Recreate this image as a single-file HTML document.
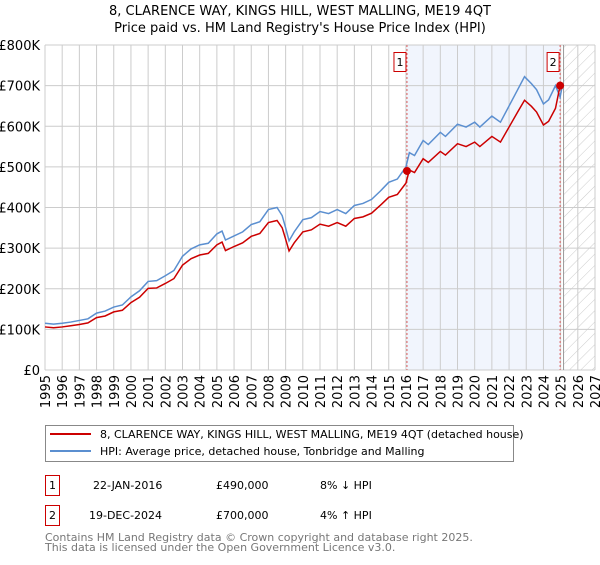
<!DOCTYPE html>
<html><head><meta charset="utf-8"><style>
body{margin:0;background:#fff;font-family:"Liberation Sans","DejaVu Sans",sans-serif;}
svg text{font-family:"DejaVu Sans","Liberation Sans",sans-serif;}
</style></head><body>
<svg id="c" width="600" height="560" xmlns="http://www.w3.org/2000/svg">
<defs><pattern id="hatch" width="8" height="8" patternUnits="userSpaceOnUse" patternTransform="rotate(45)"><line x1="0" y1="0" x2="0" y2="8" stroke="#ccc" stroke-width="1"/></pattern></defs>
<text x="300" y="15" text-anchor="middle" font-size="13">8, CLARENCE WAY, KINGS HILL, WEST MALLING, ME19 4QT</text>
<text x="300" y="32" text-anchor="middle" font-size="13">Price paid vs. HM Land Registry's House Price Index (HPI)</text>
<g id="plot"></g>
<g>
<rect x="45.5" y="425.5" width="468" height="36" fill="#fff" stroke="#888"/>
<line x1="50" y1="434" x2="91" y2="434" stroke="#cc0000" stroke-width="2"/>
<text x="100" y="438" font-size="11">8, CLARENCE WAY, KINGS HILL, WEST MALLING, ME19 4QT (detached house)</text>
<line x1="50" y1="451" x2="91" y2="451" stroke="#5b8fd0" stroke-width="2"/>
<text x="100" y="455" font-size="11">HPI: Average price, detached house, Tonbridge and Malling</text>
</g>
<g font-size="11">
<rect x="45.5" y="475.5" width="14" height="20" fill="#fff" stroke="#cc0000"/>
<text x="52.5" y="489" text-anchor="middle">1</text>
<text x="93" y="489">22-JAN-2016</text><text x="216" y="489">£490,000</text><text x="320" y="489">8% ↓ HPI</text>
<rect x="45.5" y="505.5" width="14" height="20" fill="#fff" stroke="#cc0000"/>
<text x="52.5" y="519" text-anchor="middle">2</text>
<text x="89" y="519">19-DEC-2024</text><text x="216" y="519">£700,000</text><text x="320" y="519">4% ↑ HPI</text>
</g>
<text x="45" y="541" font-size="11" fill="#777">Contains HM Land Registry data © Crown copyright and database right 2025.</text>
<text x="45" y="551" font-size="11" fill="#777">This data is licensed under the Open Government Licence v3.0.</text>
</svg>
<script>
const years=[1995,1995.5,1996,1996.5,1997,1997.5,1998,1998.5,1999,1999.5,2000,2000.5,2001,2001.5,2002,2002.5,2003,2003.5,2004,2004.5,2005,2005.3,2005.5,2006,2006.5,2007,2007.5,2008,2008.5,2008.8,2009,2009.2,2009.5,2010,2010.5,2011,2011.5,2012,2012.5,2013,2013.5,2014,2014.5,2015,2015.5,2016,2016.2,2016.5,2017,2017.3,2018,2018.3,2019,2019.5,2020,2020.3,2021,2021.5,2022,2022.5,2022.9,2023.3,2023.6,2024,2024.3,2024.7,2024.97,2025.1];
const hpiValues=[115,113,115,118,122,126,140,145,155,160,180,195,218,220,232,245,280,298,308,312,335,342,320,330,340,358,365,395,400,380,350,318,340,370,375,390,385,395,385,405,410,420,440,462,470,500,535,528,565,555,585,575,605,598,610,598,625,610,650,690,722,705,690,655,665,700,672,700];
const priceValues=[106,104,106,109,112,116,129,133,143,147,166,179,201,202,213,225,258,274,283,287,308,315,294,304,313,329,336,363,368,350,322,293,313,340,345,359,354,363,354,373,377,386,405,425,432,460,492,486,520,511,538,529,557,550,561,550,575,561,598,635,664,649,635,603,612,644,700,702];
const saleYears=[2016.06,2024.97];
const salePrices=[490,700];
const yTicks=[0,100,200,300,400,500,600,700,800];
const yTickLabels=["£0","£100K","£200K","£300K","£400K","£500K","£600K","£700K","£800K"];
const xTicks=[1995,1996,1997,1998,1999,2000,2001,2002,2003,2004,2005,2006,2007,2008,2009,2010,2011,2012,2013,2014,2015,2016,2017,2018,2019,2020,2021,2022,2023,2024,2025,2026,2027];
const X0=45,X1=595,Y0=370,Y1=45;
const xs=v=>X0+(v-1995)/(2027-1995)*(X1-X0);
const ys=v=>Y0-v/800*(Y0-Y1);
const NS="http://www.w3.org/2000/svg";
const g=document.getElementById('plot');
function mk(t,a){const e=document.createElementNS(NS,t);for(const k in a)e.setAttribute(k,a[k]);g.appendChild(e);return e;}
let r=mk('rect',{x:xs(saleYears[0]),y:Y1,width:xs(saleYears[1])-xs(saleYears[0]),height:Y0-Y1,fill:'#eef3fc',opacity:0.8});


let h=mk('rect',{x:xs(2025.17),y:Y1,width:X1-xs(2025.17),height:Y0-Y1,fill:'url(#hatch)'});


yTicks.forEach((v,i)=>{
 let l=mk('line',{x1:X0,x2:X1,y1:ys(v),y2:ys(v),stroke:'#ccc'});
 
 
 let t=mk('text',{x:X0-5,y:ys(v)+5,'text-anchor':'end','font-size':13});
 t.textContent=yTickLabels[i];
 
 
});
xTicks.forEach(v=>{
 let l=mk('line',{x1:xs(v),x2:xs(v),y1:Y1,y2:Y0,stroke:'#ccc'});
 
 
 let t=mk('text',{x:0,y:0,'text-anchor':'end','font-size':13,transform:`translate(${xs(v)+5},${Y0+5}) rotate(-90)`});
 t.textContent=v;
 
 
});
let bl=mk('line',{x1:xs(2025.17),x2:xs(2025.17),y1:Y1,y2:Y0,stroke:'#999','stroke-width':1});


saleYears.forEach((v,i)=>{
 let l=mk('line',{x1:xs(v),x2:xs(v),y1:Y1,y2:Y0,stroke:'#e06060','stroke-dasharray':'2,2'});
 
 
 let b=mk('rect',{x:xs(v)-13,y:52.5,width:12,height:19,fill:'#fff',stroke:'#cc0000'});
 
 
 let t=mk('text',{x:xs(v)-7,y:66,'text-anchor':'middle','font-size':11});
 t.textContent=String(i+1);
 
 
});
let hp=mk('polyline',{points:years.map((y,i)=>xs(y)+','+ys(hpiValues[i])).join(' '),fill:'none',stroke:'#5b8fd0','stroke-width':1.5});


let pp=mk('polyline',{points:years.map((y,i)=>xs(y)+','+ys(priceValues[i])).join(' '),fill:'none',stroke:'#cc0000','stroke-width':1.5});


saleYears.forEach((v,i)=>{
 let c=mk('circle',{cx:xs(v),cy:ys(salePrices[i]),r:4,fill:'#cc0000'});
 
 
});
</script>
</body></html>
